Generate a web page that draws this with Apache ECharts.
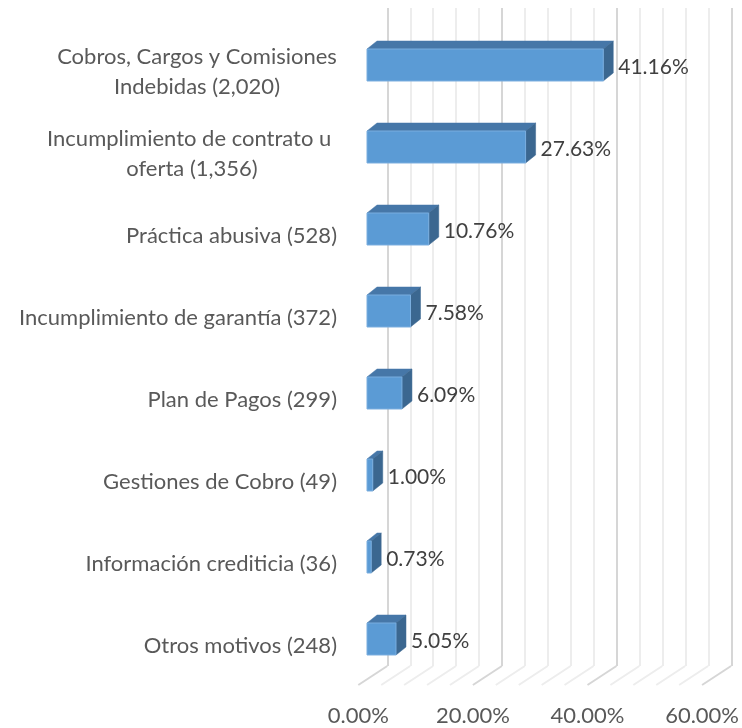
<!DOCTYPE html>
<html>
<head>
<meta charset="utf-8">
<script src="https://cdn.jsdelivr.net/npm/echarts@6/dist/echarts.min.js"></script>
<style>
  html, body { margin: 0; padding: 0; background: #fff; }
  #chart { width: 742px; height: 728px; }
</style>
</head>
<body>
<div id="chart"></div>
<script>
// datos
const categories = [
  "Cobros, Cargos y Comisiones\nIndebidas (2,020)",
  "Incumplimiento de contrato u \noferta (1,356)",
  "Práctica abusiva (528)",
  "Incumplimiento de garantía (372)",
  "Plan de Pagos (299)",
  "Gestiones de Cobro (49)",
  "Información crediticia (36)",
  "Otros motivos (248)"
];
const shares = [41.16, 27.63, 10.76, 7.58, 6.09, 1.00, 0.73, 5.05];
const axisTicks = [0, 20, 40, 60];
const minorTicks = [0, 4, 8, 12, 16, 20, 24, 28, 32, 36, 40, 44, 48, 52, 56, 60];

const FONT = "Lato";
const CAT_SIZE = 22;
const LABEL_COLOR = "#595959";

// medir lineas para centrar etiquetas de dos lineas
const ctx = document.createElement("canvas").getContext("2d");
ctx.font = CAT_SIZE + "px " + FONT;
const rich = {};
categories.forEach((c, i) => {
  if (c.indexOf("\n") < 0) return;
  const w = Math.max(...c.split("\n").map(l => ctx.measureText(l).width));
  rich["m" + i] = {
    width: Math.ceil(w), align: "center",
    fontFamily: FONT, fontSize: CAT_SIZE, color: LABEL_COLOR, lineHeight: 30
  };
});

const chart = echarts.init(document.getElementById("chart"));

const barDepth = [10, -8];
const floorDepth = [29, -19];

chart.setOption({
  animation: false,
  grid: [
    { left: 367, top: 24, width: 344.4, height: 656 },   // cara frontal de barras
    { left: 387.3, top: 8, width: 344.4, height: 658 },  // pared de fondo
    { left: 358.3, top: 8, width: 344.4, height: 677 },  // borde frontal del piso
    { left: 367, top: 31, width: 344.4, height: 656 }    // etiquetas de categoria
  ],
  xAxis: [
    { gridIndex: 0, type: "value", min: 0, max: 60, show: false },
    {
      gridIndex: 1, type: "value", min: 0, max: 60, interval: 20,
      axisLine: { show: false }, axisTick: { show: false }, axisLabel: { show: false },
      splitLine: { show: true, lineStyle: { color: "#D6D6D6", width: 2 } },
      minorTick: { show: false, splitNumber: 5 },
      minorSplitLine: { show: true, lineStyle: { color: "#EDEDED", width: 2 } }
    },
    {
      gridIndex: 2, type: "value", min: 0, max: 60, interval: 20,
      axisLine: { show: false }, axisTick: { show: false }, splitLine: { show: false },
      axisLabel: {
        margin: 20, color: LABEL_COLOR, fontFamily: FONT, fontSize: 22,
        formatter: v => v.toFixed(2) + "%"
      }
    },
    { gridIndex: 3, type: "value", min: 0, max: 60, show: false }
  ],
  yAxis: [
    { gridIndex: 0, type: "category", inverse: true, data: categories, show: false },
    { gridIndex: 1, type: "value", show: false },
    { gridIndex: 2, type: "value", min: 0, max: 1, show: false },
    {
      gridIndex: 3, type: "category", inverse: true, data: categories,
      axisLine: { show: false }, axisTick: { show: false }, splitLine: { show: false },
      axisLabel: {
        margin: 30, color: LABEL_COLOR, fontFamily: FONT, fontSize: CAT_SIZE, lineHeight: 30,
        rich: rich,
        formatter: (val, i) => rich["m" + i]
          ? val.split("\n").map(l => "{m" + i + "|" + l + "}").join("\n")
          : val
      }
    }
  ],
  series: [
    {
      // lineas del piso
      type: "custom", xAxisIndex: 2, yAxisIndex: 2, silent: true, z: 1,
      data: minorTicks.map(v => [v, 0]),
      renderItem: (params, api) => {
        const v = api.value(0);
        const p = api.coord([v, 0]);
        const major = axisTicks.indexOf(v) >= 0;
        return {
          type: "line",
          shape: { x1: p[0], y1: p[1], x2: p[0] + floorDepth[0], y2: p[1] + floorDepth[1] },
          style: { stroke: major ? "#D6D6D6" : "#EDEDED", lineWidth: 2 }
        };
      }
    },
    {
      // barras 3D
      type: "custom", xAxisIndex: 0, yAxisIndex: 0, z: 5,
      data: shares.map((v, i) => [v, i]),
      encode: { x: 0, y: 1 },
      renderItem: (params, api) => {
        const v = api.value(0), i = api.value(1);
        const a = api.coord([0, i]);
        const b = api.coord([v, i]);
        const h = api.size([0, 1])[1] * 0.39;
        const x0 = a[0], x1 = b[0];
        const yt = a[1] - h / 2, yb = a[1] + h / 2;
        const dx = barDepth[0], dy = barDepth[1];
        return {
          type: "group",
          children: [
            {
              type: "polygon",
              shape: { points: [[x0, yt], [x1, yt], [x1 + dx, yt + dy], [x0 + dx, yt + dy]] },
              style: { fill: "#4677A8", stroke: "#4677A8", lineWidth: 0.5 }
            },
            {
              type: "polygon",
              shape: { points: [[x1, yt], [x1 + dx, yt + dy], [x1 + dx, yb + dy], [x1, yb]] },
              style: { fill: "#3B6790", stroke: "#3B6790", lineWidth: 0.5 }
            },
            {
              type: "rect",
              shape: { x: x0, y: yt, width: x1 - x0, height: h },
              style: { fill: "#5B9BD5", stroke: "#7AAEDF", lineWidth: 1 }
            },
            {
              type: "text",
              style: {
                text: v.toFixed(2) + "%",
                x: x1 + dx + 5, y: a[1] + 2,
                verticalAlign: "middle", align: "left",
                fill: "#404040", fontFamily: FONT, fontSize: 21
              }
            }
          ]
        };
      }
    }
  ]
});
</script>
</body>
</html>
